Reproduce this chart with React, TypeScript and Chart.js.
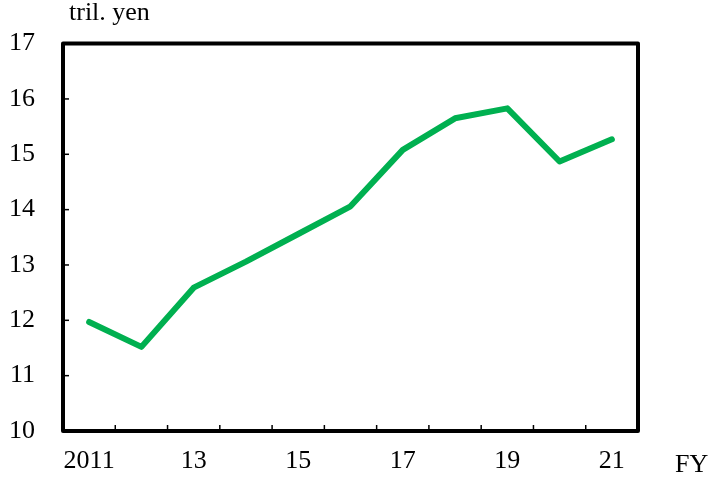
import React, { useEffect, useRef } from "react";
import { Chart, registerables } from "chart.js";

Chart.register(...registerables);

const categories = ["2011", "12", "13", "14", "15", "16", "17", "18", "19", "20", "21"];
const values = [11.97, 11.52, 12.59, 13.06, 13.56, 14.06, 15.08, 15.65, 15.83, 14.87, 15.27];
const yTicks = [10, 11, 12, 13, 14, 15, 16, 17];
const yUnit = "tril. yen";
const xUnit = "FY";

const FONT = "'Liberation Serif', 'Times New Roman', Times, serif";

const framePlugin = {
  id: "frame",
  afterDraw(chart: any) {
    const { ctx, chartArea } = chart;
    const x = chart.scales.x;
    const y = chart.scales.y;
    ctx.save();
    ctx.strokeStyle = "#000";
    ctx.lineWidth = 1.5;
    for (let i = 1; i < categories.length; i++) {
      const px = (x.getPixelForValue(i - 1) + x.getPixelForValue(i)) / 2;
      ctx.beginPath();
      ctx.moveTo(px, chartArea.bottom);
      ctx.lineTo(px, chartArea.bottom - 6);
      ctx.stroke();
    }
    for (const t of yTicks) {
      const py = y.getPixelForValue(t);
      ctx.beginPath();
      ctx.moveTo(chartArea.left, py);
      ctx.lineTo(chartArea.left + 6, py);
      ctx.stroke();
    }
    ctx.lineWidth = 4;
    ctx.lineJoin = "round";
    ctx.strokeRect(chartArea.left, chartArea.top, chartArea.right - chartArea.left, chartArea.bottom - chartArea.top);
    ctx.fillStyle = "#000";
    ctx.font = `26px ${FONT}`;
    ctx.textBaseline = "middle";
    ctx.textAlign = "left";
    ctx.fillText(yUnit, 69, 13);
    ctx.fillText(xUnit, 675, 465);
    ctx.restore();
  },
};

export default function App() {
  const ref = useRef<HTMLCanvasElement>(null);
  useEffect(() => {
    document.body.style.margin = "0";
    let chart: Chart | null = null;
    let cancelled = false;
    const build = () => {
      if (cancelled || !ref.current) return;
      chart = new Chart(ref.current, {
        type: "line",
        data: {
          labels: categories,
          datasets: [
            {
              data: values,
              borderColor: "#00B050",
              borderWidth: 6,
              pointRadius: 0,
              tension: 0,
              borderCapStyle: "round",
              borderJoinStyle: "round",
            },
          ],
        },
        options: {
          animation: false,
          responsive: false,
          devicePixelRatio: 1,
          layout: { padding: { top: 42, right: 70, left: 0, bottom: 0 } },
          plugins: { legend: { display: false }, tooltip: { enabled: false } },
          scales: {
            x: {
              type: "category",
              offset: true,
              grid: { display: false, drawTicks: false },
              border: { display: false },
              afterFit: (s: any) => {
                s.height = 47;
              },
              ticks: {
                autoSkip: false,
                maxRotation: 0,
                padding: 15,
                color: "#000",
                font: { family: FONT, size: 26 },
                callback: (_v: any, i: number) => (i % 2 === 0 ? categories[i] : ""),
              },
            },
            y: {
              min: 10,
              max: 17,
              grid: { display: false, drawTicks: false },
              border: { display: false },
              afterFit: (s: any) => {
                s.width = 63;
              },
              ticks: {
                stepSize: 1,
                padding: 28,
                color: "#000",
                font: { family: FONT, size: 26 },
              },
            },
          },
        },
        plugins: [framePlugin],
      });
    };
    Promise.all([document.fonts.load("26px 'Liberation Serif'")])
      .catch(() => null)
      .then(build);
    return () => {
      cancelled = true;
      if (chart) chart.destroy();
    };
  }, []);
  return (
    <div style={{ width: 708, height: 478, fontFamily: FONT }}>
      <canvas ref={ref} width={708} height={478} style={{ display: "block" }} />
    </div>
  );
}
